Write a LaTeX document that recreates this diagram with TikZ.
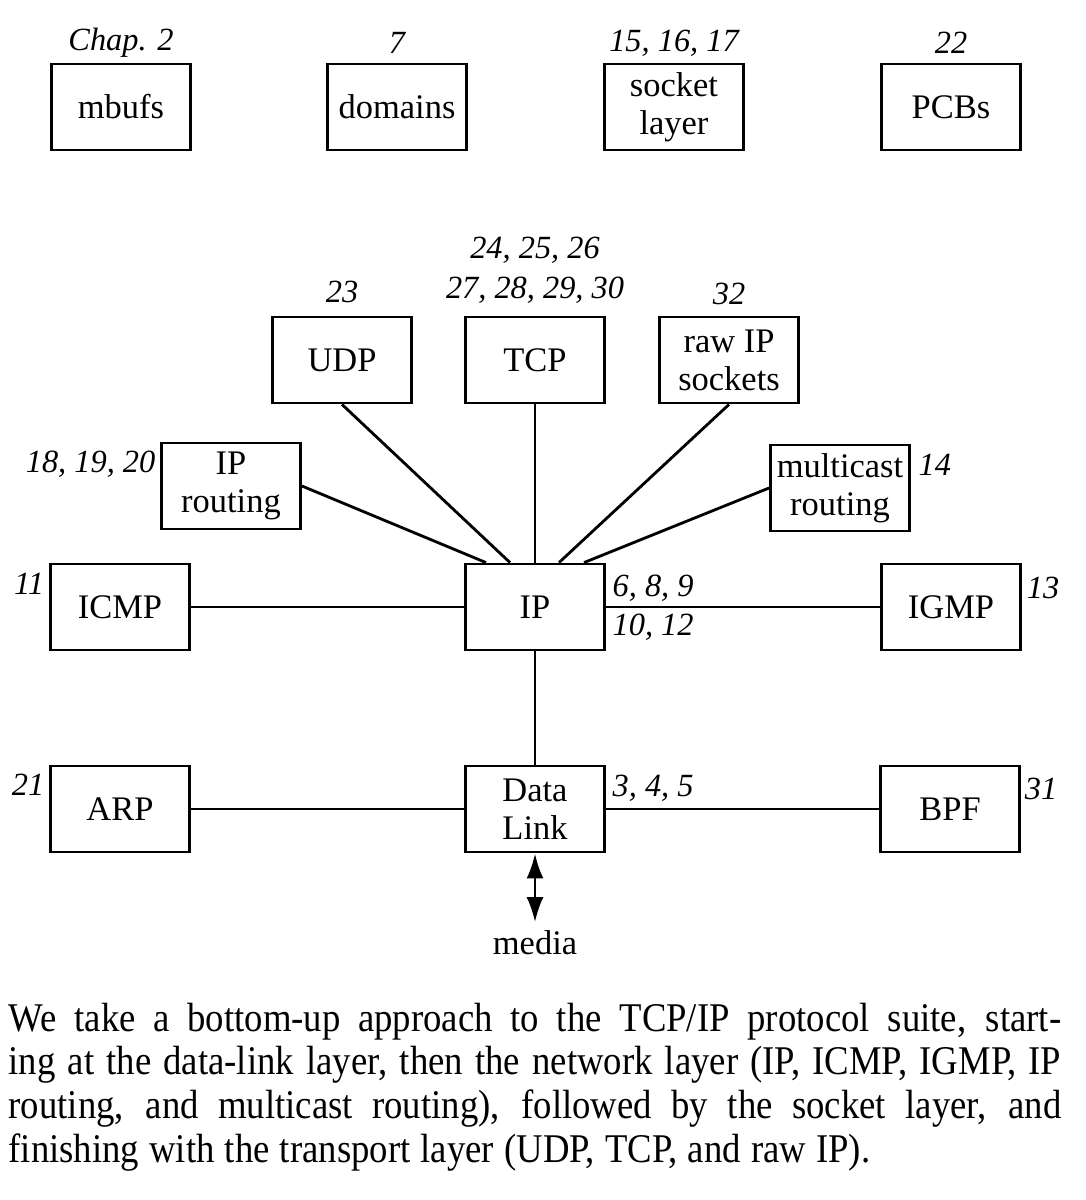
\documentclass[tikz,border=0pt]{standalone}
\usepackage{fontspec}
\setmainfont{Liberation Serif}
\newfontfamily\parafont[FakeStretch=0.9]{Liberation Serif}
\usetikzlibrary{arrows.meta}

\begin{document}
\begin{tikzpicture}[x=0.01cm, y=-0.01cm,
        box/.style={draw, line width=0.8pt, minimum width=1.39cm, minimum height=0.86cm,
            align=center, inner sep=1pt, font=\fontsize{9.8}{10.8}\selectfont},
        chap/.style={inner sep=0pt, font=\fontsize{9.2}{10}\selectfont\itshape},
        link/.style={line width=0.8pt}]
        \useasboundingbox (0,0) rectangle (1086,1200);

        \node[box] (mbufs) at (121,107) {mbufs};
        \node[box] (domains) at (397,107) {domains};
        \node[box] (socket) at (674,107) {socket\\layer};
        \node[box] (pcbs) at (951,107) {PCBs};
        \node[chap] (mbufsch) at (121,43) {Chap. 2};
        \node[chap] (domainsch) at (397,43) {7};
        \node[chap] (socketch) at (674,43) {15, 16, 17};
        \node[chap] (pcbsch) at (951,43) {22};

        \node[box] (udp) at (342,360) {UDP};
        \node[box] (tcp) at (535,360) {TCP};
        \node[box] (raw) at (729,360) {raw IP\\sockets};
        \node[box] (iprouting) at (231,486) {IP\\routing};
        \node[box] (mrouting) at (840,488) {multicast\\routing};
        \node[box] (icmp) at (120,607) {ICMP};
        \node[box] (ip) at (535,607) {IP};
        \node[box] (igmp) at (951,607) {IGMP};
        \node[box] (arp) at (120,809) {ARP};
        \node[box] (dlink) at (535,809) {Data\\Link};
        \node[box] (bpf) at (950,809) {BPF};
        \node[inner sep=0pt, font=\fontsize{9.8}{10.8}\selectfont] (media) at (535,943) {media};

        \node[chap] (udpch) at (342,292) {23};
        \node[chap] (tcpcha) at (535,250) {24, 25, 26};
        \node[chap] (tcpchb) at (535,290) {27, 28, 29, 30};
        \node[chap] (rawch) at (729,294) {32};
        \node[chap, anchor=east] (iproutingch) at (156,464) {18, 19, 20};
        \node[chap, anchor=west] (mroutingch) at (918,465) {14};
        \node[chap] (icmpch) at (29,584) {11};
        \node[chap] (igmpch) at (1043,588) {13};
        \node[chap] (arpch) at (28,785) {21};
        \node[chap] (bpfch) at (1041,789) {31};
        \node[chap, anchor=west] (ipcha) at (612,588) {6, 8, 9};
        \node[chap, anchor=west] (ipchb) at (612,627) {10, 12};
        \node[chap, anchor=west] (dlinkch) at (612,788) {3, 4, 5};

        \draw[link] (iprouting.east) -- ([xshift=-0.49cm]ip.north);
        \draw[link] (udp.south) -- ([xshift=-0.25cm]ip.north);
        \draw[link] (tcp) -- (ip);
        \draw[link] (raw.south) -- ([xshift=0.24cm]ip.north);
        \draw[link] (mrouting.west) -- ([xshift=0.49cm]ip.north);
        \draw[link] (icmp) -- (ip);
        \draw[link] (ip) -- (igmp);
        \draw[link] (ip) -- (dlink);
        \draw[link] (arp) -- (dlink);
        \draw[link] (dlink) -- (bpf);
        \draw[link, {Latex[length=0.25cm,width=0.17cm]}-{Latex[length=0.25cm,width=0.17cm]}] (dlink.south) -- ([yshift=0.08cm]media.north);

        \node[anchor=north west, inner sep=0pt, text width=10.52cm, align=left,
            font=\parafont\fontsize{11.6}{12.5}\selectfont] (para) at (8,1002) {%
            \spaceskip=0.25em plus 1em minus 0.08em\relax
            \makebox[10.52cm][s]{We take a bottom-up approach to the TCP/IP protocol suite, start-}\\
            \makebox[10.52cm][s]{ing at the data-link layer, then the network layer (IP, ICMP, IGMP, IP}\\
            \makebox[10.52cm][s]{routing, and multicast routing), followed by the socket layer, and}\\
            finishing with the transport layer (UDP, TCP, and raw IP).};
\end{tikzpicture}
\end{document}
